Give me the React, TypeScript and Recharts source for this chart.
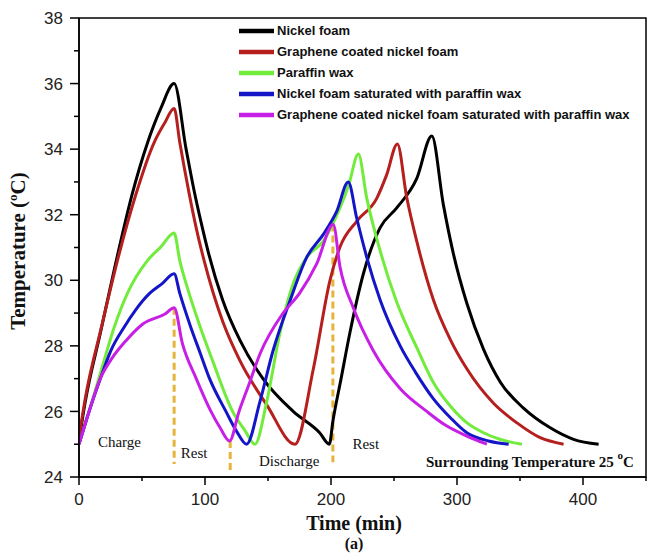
import React from 'react';
import { LineChart, Line, XAxis, YAxis, Legend, ReferenceArea, ReferenceDot } from 'recharts';

// [time (min), temperature (°C)]
const nickelFoam = [
  [0, 25.1], [5, 26.3], [17, 28.4], [29, 30.5], [42, 32.6], [54, 34.15], [65, 35.25], [75.5, 36.0],
  [85, 34.0], [91, 32.8], [97, 31.75], [103, 30.8], [114, 29.4], [128, 28.15], [146, 27.0], [170, 26.0],
  [191, 25.35], [198.7, 25.0], [201.5, 25.7], [208, 27.0], [215, 28.4], [225.7, 30.2], [238.9, 31.6],
  [252, 32.2], [268, 33.1], [280, 34.4], [289.2, 32.3], [297.2, 30.8], [307.8, 29.3], [321, 27.9],
  [334.3, 26.9], [352.8, 26.1], [374, 25.5], [392.5, 25.15], [412.4, 25.0],
];
const grapheneNickelFoam = [
  [0, 25.2], [5, 26.4], [18, 28.6], [30.5, 30.6], [45, 32.6], [59.6, 34.2], [68, 34.8], [75.5, 35.24],
  [80, 34.2], [87.4, 32.65], [93, 31.6], [99.3, 30.6], [114, 28.75], [127.7, 27.55], [149, 26.2],
  [171.4, 25.0], [186, 27.3], [199.2, 30.0], [207, 31.0], [220.4, 31.8], [236.3, 32.5], [244, 33.2],
  [252.7, 34.16], [260, 32.55], [268, 31.2], [281.3, 29.4], [294.6, 28.2], [307.8, 27.3], [329, 26.25],
  [347.6, 25.65], [366, 25.2], [384.6, 25.0],
];
const paraffinWax = [
  [0, 25.0], [11.9, 26.5], [19.9, 27.55], [27.8, 28.55], [38.4, 29.6], [54.3, 30.6], [65, 31.02], [75.5, 31.44],
  [80, 30.6], [87.4, 29.6], [96, 28.6], [106, 27.55], [121.9, 26.0], [132, 25.4], [139.6, 25.0],
  [149, 26.3], [159.5, 28.4], [170, 29.9], [180.7, 30.7], [194, 31.2], [207, 32.2], [214, 32.9], [221.7, 33.85],
  [228.4, 32.5], [239, 30.9], [252, 29.35], [268, 27.95], [281, 26.9], [295, 26.15], [308, 25.65],
  [321, 25.35], [334, 25.15], [351.5, 25.0],
];
const nickelFoamParaffin = [
  [0, 25.0], [8, 26.0], [17.2, 27.03], [25.2, 27.85], [35.8, 28.57], [45, 29.1], [56, 29.6], [66, 29.9], [75.5, 30.2],
  [80, 29.6], [88.7, 28.57], [96, 27.8], [103.3, 27.03], [116.6, 26.0], [125, 25.4], [133, 25.0],
  [143.6, 26.3], [154, 27.85], [167.4, 29.37], [180.7, 30.7], [193.9, 31.4], [204.5, 32.1], [213.7, 33.0],
  [220.4, 31.9], [228.4, 30.7], [239, 29.4], [254.9, 28.0], [267, 27.2], [281, 26.4], [295, 25.8],
  [307.8, 25.35], [325, 25.1], [341, 25.0],
];
const grapheneNickelParaffin = [
  [0, 25.0], [8, 26.0], [17.2, 27.03], [26.5, 27.64], [37.1, 28.15], [50.4, 28.66], [68.6, 28.98], [75.5, 29.16],
  [82.2, 28.05], [92.7, 27.03], [104.7, 26.0], [112, 25.5], [119.5, 25.1],
  [127, 26.0], [135.6, 26.9], [143.6, 27.75], [162, 29.0], [175, 29.6], [188.6, 30.5], [201.8, 31.7],
  [207.2, 30.4], [217.7, 29.16], [233.6, 27.85], [254.8, 26.7], [276, 26.0], [290, 25.6], [307.8, 25.25],
  [323.7, 25.0],
];

// phase boundary markers
const chargeEnd = [[75.5, 29.16], [75.5, 24.4]];
const restEnd = [[120, 25.1], [120, 24.1]];
const dischargeEnd = [[201.5, 31.7], [201.5, 24.45]];

const seriesNames = [
  'Nickel foam',
  'Graphene coated nickel foam',
  'Paraffin wax',
  'Nickel foam saturated with paraffin wax',
  'Graphene coated nickel foam saturated with paraffin wax',
];
const seriesColors = ['#000000', '#b5201f', '#72ec3c', '#1515c8', '#c81fe6'];
const seriesPoints = [nickelFoam, grapheneNickelFoam, paraffinWax, nickelFoamParaffin, grapheneNickelParaffin];

const xTicks = [0, 50, 100, 150, 200, 250, 300, 350, 400, 450];
const yTicks = [24, 25, 26, 27, 28, 29, 30, 31, 32, 33, 34, 35, 36, 37, 38];

const phaseLabels = [
  { text: 'Charge', t: 32.1, v: 24.9 },
  { text: 'Rest', t: 91.4, v: 24.57 },
  { text: 'Discharge', t: 166.8, v: 24.34 },
  { text: 'Rest', t: 227.6, v: 24.85 },
];

const toRows = (pts: number[][]) => pts.map(([t, v]) => ({ t, v }));

const SANS = '"Liberation Sans", Arial, sans-serif';
const SERIF = '"Liberation Serif", "Times New Roman", serif';

const YTick = (props: any) => {
  const { x, y, payload } = props;
  const major = payload.value % 2 === 0;
  const ax = x + 16;
  return (
    <g>
      <line x1={ax} x2={ax - (major ? 9 : 5)} y1={y} y2={y} stroke="#000" strokeWidth={1.5} />
      {major && (
        <text x={x} y={y} dy="0.36em" textAnchor="end" fontFamily={SANS} fontSize={17} fill="#222">
          {payload.value}
        </text>
      )}
    </g>
  );
};

const XTick = (props: any) => {
  const { x, y, payload } = props;
  const major = payload.value % 100 === 0;
  const ay = y - 16;
  return (
    <g>
      <line x1={x} x2={x} y1={ay} y2={ay + (major ? 8 : 4)} stroke="#000" strokeWidth={1.5} />
      {major && (
        <text x={x} y={y} dy="0.71em" textAnchor="middle" fontFamily={SANS} fontSize={17} fill="#222">
          {payload.value}
        </text>
      )}
    </g>
  );
};

const XTitle = () => (
  <g fontFamily={SERIF} fontWeight="bold" fill="#111">
    <text x={354} y={530} textAnchor="middle" fontSize={20}>Time (min)</text>
    <text x={354} y={549} textAnchor="middle" fontSize={16}>(a)</text>
  </g>
);

const YTitle = () => (
  <text
    x={25}
    y={251}
    transform="rotate(-90, 25, 251)"
    textAnchor="middle"
    fontFamily={SERIF}
    fontWeight="bold"
    fontSize={21}
    fill="#111"
  >
    Temperature (<tspan fontSize={13} dy={-8}>o</tspan><tspan dy={8}>C)</tspan>
  </text>
);

const LegendBox = () => (
  <div style={{ fontFamily: SANS, fontWeight: 'bold', fontSize: 13, color: '#111' }}>
    {seriesNames.map((name, i) => (
      <div key={name} style={{ display: 'flex', alignItems: 'center', height: 21.1, whiteSpace: 'nowrap' }}>
        <svg width={38} height={8} style={{ display: 'block' }}>
          <line x1={0} x2={35} y1={4} y2={4} stroke={seriesColors[i]} strokeWidth={4.5} />
        </svg>
        <span>{name}</span>
      </div>
    ))}
  </div>
);

export default function App() {
  return (
    <div style={{ width: 670, height: 553, background: '#fff' }}>
      <style>{`body{margin:0}`}</style>
      <LineChart width={670} height={553} margin={{ top: 18, right: 24, left: 29, bottom: 46 }}>
        <XAxis
          dataKey="t"
          type="number"
          domain={[0, 450]}
          ticks={xTicks}
          interval={0}
          height={30}
          tickSize={8}
          tickMargin={8}
          tickLine={false}
          axisLine={{ stroke: '#000', strokeWidth: 1.5 }}
          tick={<XTick />}
          label={<XTitle />}
          allowDataOverflow
        />
        <YAxis
          dataKey="v"
          type="number"
          domain={[24, 38]}
          ticks={yTicks}
          interval={0}
          width={50}
          tickSize={9}
          tickMargin={7}
          tickLine={false}
          axisLine={{ stroke: '#000', strokeWidth: 1.5 }}
          tick={<YTick />}
          label={<YTitle />}
          allowDataOverflow
        />
        <ReferenceArea x1={0} x2={450} y1={24} y2={38} fill="none" stroke="#000" strokeWidth={1.5} ifOverflow="visible" />
        {[chargeEnd, restEnd, dischargeEnd].map((seg, i) => (
          <Line
            key={'dash' + i}
            data={toRows(seg)}
            dataKey="v"
            type="linear"
            stroke="#e6b43a"
            strokeWidth={3}
            strokeDasharray="7 4"
            dot={false}
            activeDot={false}
            legendType="none"
            isAnimationActive={false}
          />
        ))}
        {seriesPoints.map((pts, i) => (
          <Line
            key={seriesNames[i]}
            name={seriesNames[i]}
            data={toRows(pts)}
            dataKey="v"
            type="monotone"
            stroke={seriesColors[i]}
            strokeWidth={3}
            dot={false}
            activeDot={false}
            isAnimationActive={false}
          />
        ))}
        {phaseLabels.map((p, i) => (
          <ReferenceDot
            key={'lbl' + i}
            x={p.t}
            y={p.v}
            ifOverflow="visible"
            shape={(sp: any) => (
              <text x={sp.cx} y={sp.cy} textAnchor="middle" fontFamily={SERIF} fontSize={15} fill="#111">
                {p.text}
              </text>
            )}
          />
        ))}
        <ReferenceDot
          x={440.4}
          y={24.3}
          ifOverflow="visible"
          shape={(sp: any) => (
            <text x={sp.cx} y={sp.cy} textAnchor="end" fontFamily={SERIF} fontWeight="bold" fontSize={15} fill="#111">
              Surrounding Temperature 25 <tspan fontSize={11} dy={-8}>o</tspan><tspan dy={8}>C</tspan>
            </text>
          )}
        />
        <Legend
          layout="vertical"
          align="center"
          verticalAlign="middle"
          content={<LegendBox />}
          wrapperStyle={{ position: 'absolute', left: 239, top: 20, width: 420 }}
        />
      </LineChart>
    </div>
  );
}
